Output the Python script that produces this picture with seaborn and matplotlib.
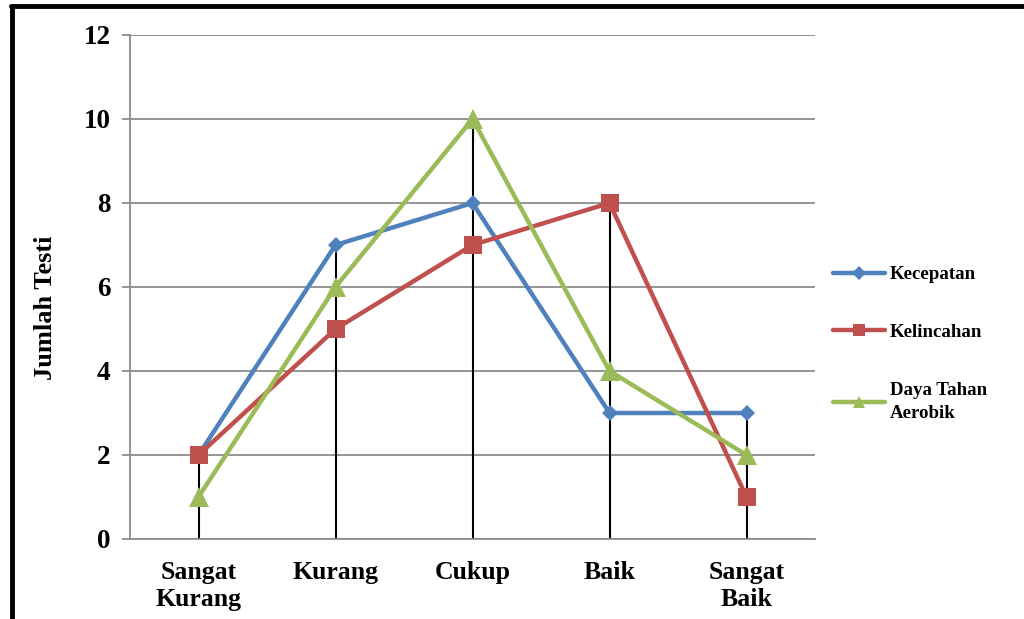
import matplotlib
matplotlib.use("Agg")
import matplotlib.pyplot as plt
import seaborn as sns
import pandas as pd
import numpy as np
from matplotlib.lines import Line2D

categories = ["Sangat\nKurang", "Kurang", "Cukup", "Baik", "Sangat\nBaik"]
kecepatan = [2, 7, 8, 3, 3]
kelincahan = [2, 5, 7, 8, 1]
daya_tahan = [1, 6, 10, 4, 2]
series_names = ["Kecepatan", "Kelincahan", "Daya Tahan\nAerobik"]
y_ticks = [0, 2, 4, 6, 8, 10, 12]

sns.set_theme(style="white")
plt.rcParams["font.family"] = ["Liberation Serif", "DejaVu Serif"]
plt.rcParams["font.weight"] = "bold"
plt.rcParams["text.color"] = "black"
plt.rcParams["xtick.color"] = "black"
plt.rcParams["ytick.color"] = "black"

rows = []
for name, vals in zip(series_names, [kecepatan, kelincahan, daya_tahan]):
    for c, v in zip(categories, vals):
        rows.append({"Kategori": c, "Nilai": v, "Seri": name})
df = pd.DataFrame(rows)

colors = ["#4F81BD", "#C0504D", "#9BBB59"]
markers = ["D", "s", "^"]
msizes = [8, 13, 15]
leg_msizes = [7, 9, 9]

fig = plt.figure(figsize=(10.24, 6.19), dpi=100)
ax = fig.add_axes([130/1024, 1-539/619, 685/1024, (539-35)/619])

# drop lines
maxvals = df.groupby("Kategori", sort=False)["Nilai"].max().reindex(categories).values
ax.vlines(range(len(categories)), 0, maxvals, colors="black", linewidth=1.5, zorder=2)

for i, name in enumerate(series_names):
    sub = df[df["Seri"] == name]
    sns.lineplot(data=sub, x="Kategori", y="Nilai", ax=ax, color=colors[i],
                 marker=markers[i], markersize=msizes[i], markeredgewidth=0,
                 linewidth=3.2, label=name, zorder=3 + i, sort=False)

ax.set_xlim(-0.5, len(categories) - 0.5)
ax.set_ylim(0, 12)
ax.set_yticks(y_ticks)
ax.set_yticklabels([str(t) for t in y_ticks], fontsize=19.5, fontweight="bold", color="black")
ax.set_xticks(range(len(categories)))
ax.set_xticklabels(categories, fontsize=18.5, fontweight="bold", linespacing=1.22, color="black")
ax.set_xlabel("")
ax.set_ylabel("")
ax.grid(axis="y", color="#8c8c8c", linewidth=1.3)
ax.set_axisbelow(True)
for s in ["top", "right"]:
    ax.spines[s].set_visible(False)
for s in ["left", "bottom"]:
    ax.spines[s].set_color("#8c8c8c")
    ax.spines[s].set_linewidth(1.3)
ax.tick_params(axis="y", length=6, width=1.3, color="#8c8c8c", labelcolor="black", pad=8, left=True)
ax.tick_params(axis="x", length=0, pad=16, labelcolor="black")

fig.text(46/1024, 1-308/619, "Jumlah Testi", rotation=90, ha="center", va="center",
         fontsize=19, fontweight="bold", color="black")

handles, labels = ax.get_legend_handles_labels()
new_handles = [Line2D([], [], color=colors[i], marker=markers[i], markersize=leg_msizes[i],
                      markeredgewidth=0, linewidth=3.2) for i in range(len(handles))]
leg = ax.legend(new_handles, labels, loc="upper left", bbox_to_anchor=(816/1024, 1-249/619),
                bbox_transform=fig.transFigure, frameon=False,
                handlelength=2.75, handletextpad=0.25, labelspacing=2.15,
                prop={"weight": "bold", "size": 13.6})
for t in leg.get_texts():
    t.set_color("black")
    t.set_linespacing(1.5)

# figure border
fig.add_artist(Line2D([11/1024, 1.0], [1-6/619, 1-6/619], color="black", linewidth=3.5,
                      transform=fig.transFigure))
fig.add_artist(Line2D([12/1024, 12/1024], [0, 1-6/619], color="black", linewidth=3.5,
                      transform=fig.transFigure))

fig.savefig("out.png", dpi=100)
